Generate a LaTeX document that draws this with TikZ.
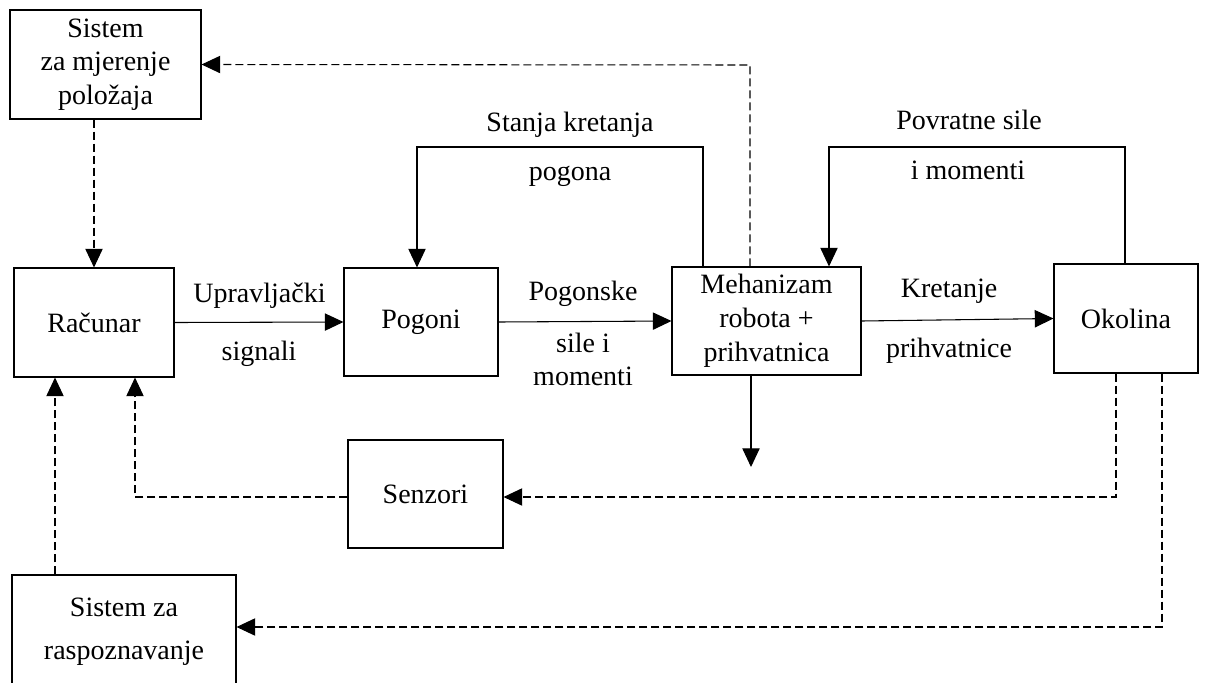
\documentclass[tikz,border=0pt]{standalone}
\usepackage{fontspec}
\setmainfont{Liberation Serif}
\usetikzlibrary{arrows.meta}

\tikzset{
  blok/.style 2 args={draw, line width=0.8pt, align=center, inner sep=0pt,
    minimum width=#1*0.75pt, minimum height=#2*0.75pt},
  tok/.style={line width=0.8pt, -{Triangle[length=14pt,width=13pt]}},
  mjera/.style={tok, dash pattern=on 6pt off 3pt},
  natpis/.style={anchor=base, inner sep=0pt},
}

\begin{document}
\begin{tikzpicture}[x=0.75pt,y=-0.75pt,font=\fontsize{21}{25}\selectfont]

% page size (px):
\pgfmathsetmacro\pwidth{1205};
\pgfmathsetmacro\pheight{682};
\useasboundingbox (0,0) rectangle (\pwidth,\pheight);
\clip (0,0) rectangle (\pwidth,\pheight);

% blokovi:
\node[blok={191}{109}] (mjer) at (105.5,64.5) {Sistem\\za mjerenje\\položaja};
\node[blok={160}{109}] (rac) at (94,322.5) {Računar};
\node[blok={154}{108}] (pog) at (421,322) {Pogoni};
\node[blok={189}{108},font=\fontsize{21}{25.5}\selectfont] (meh) at (766.5,321) {Mehanizam\\robota +\\prihvatnica};
\node[blok={144}{109}] (okol) at (1126,318.5) {Okolina};
\node[blok={155}{108}] (senz) at (425.5,494) {Senzori};
\node[blok={224}{114},font=\fontsize{21}{32}\selectfont] (rasp) at (124,632) {Sistem za\\raspoznavanje};

% natpisi:
\node[natpis] (lupr) at (259.5,302) {Upravljački};
\node[natpis] (lsig) at (259,360) {signali};
\node[natpis] (lsta) at (570,131) {Stanja kretanja};
\node[natpis] (lpgn) at (570,180) {pogona};
\node[natpis] (lpog) at (583,300) {Pogonske};
\node[natpis] (lsil) at (583,352) {sile i};
\node[natpis] (lmom) at (583,385) {momenti};
\node[natpis] (lpov) at (969,129) {Povratne sile};
\node[natpis] (limo) at (968,179) {i momenti};
\node[natpis] (lkre) at (949,297) {Kretanje};
\node[natpis] (lprh) at (949,357) {prihvatnice};

% lomovi veza:
\coordinate (s1) at (703,147);
\coordinate (s2) at (417,147);
\coordinate (p1) at (1125,147);
\coordinate (p2) at (829,147);
\coordinate (m1) at (750,65);
\coordinate (d1) at (751,467);
\coordinate (o1) at (1116,497);
\coordinate (o2) at (1162,627);
\coordinate (r1) at (135,497);
\coordinate (r2) at (55,575);

% glavni tok:
\draw[tok] (rac.east) -- (pog.west);
\draw[tok] (pog.east) -- (meh.west);
\draw[tok] (meh.east) -- (okol.west);
\draw[tok] (s1 |- meh.north) -- (s1) -- (s2) -- (s2 |- pog.north);
\draw[tok] (p1 |- okol.north) -- (p1) -- (p2) -- (p2 |- meh.north);
\draw[tok] (d1 |- meh.south) -- (d1);

% mjerenja:
\draw[mjera] (rac.north |- mjer.south) -- (rac.north);
\draw[mjera] (m1 |- meh.north) -- (m1) -- (mjer.east);
\draw[mjera] (o1 |- okol.south) -- (o1) -- (o1 -| senz.east);
\draw[mjera] (senz.west |- r1) -- (r1) -- (r1 |- rac.south);
\draw[mjera] (o2 |- okol.south) -- (o2) -- (o2 -| rasp.east);
\draw[mjera] (r2 |- rasp.north) -- (r2 |- rac.south);

\end{tikzpicture}
\end{document}
